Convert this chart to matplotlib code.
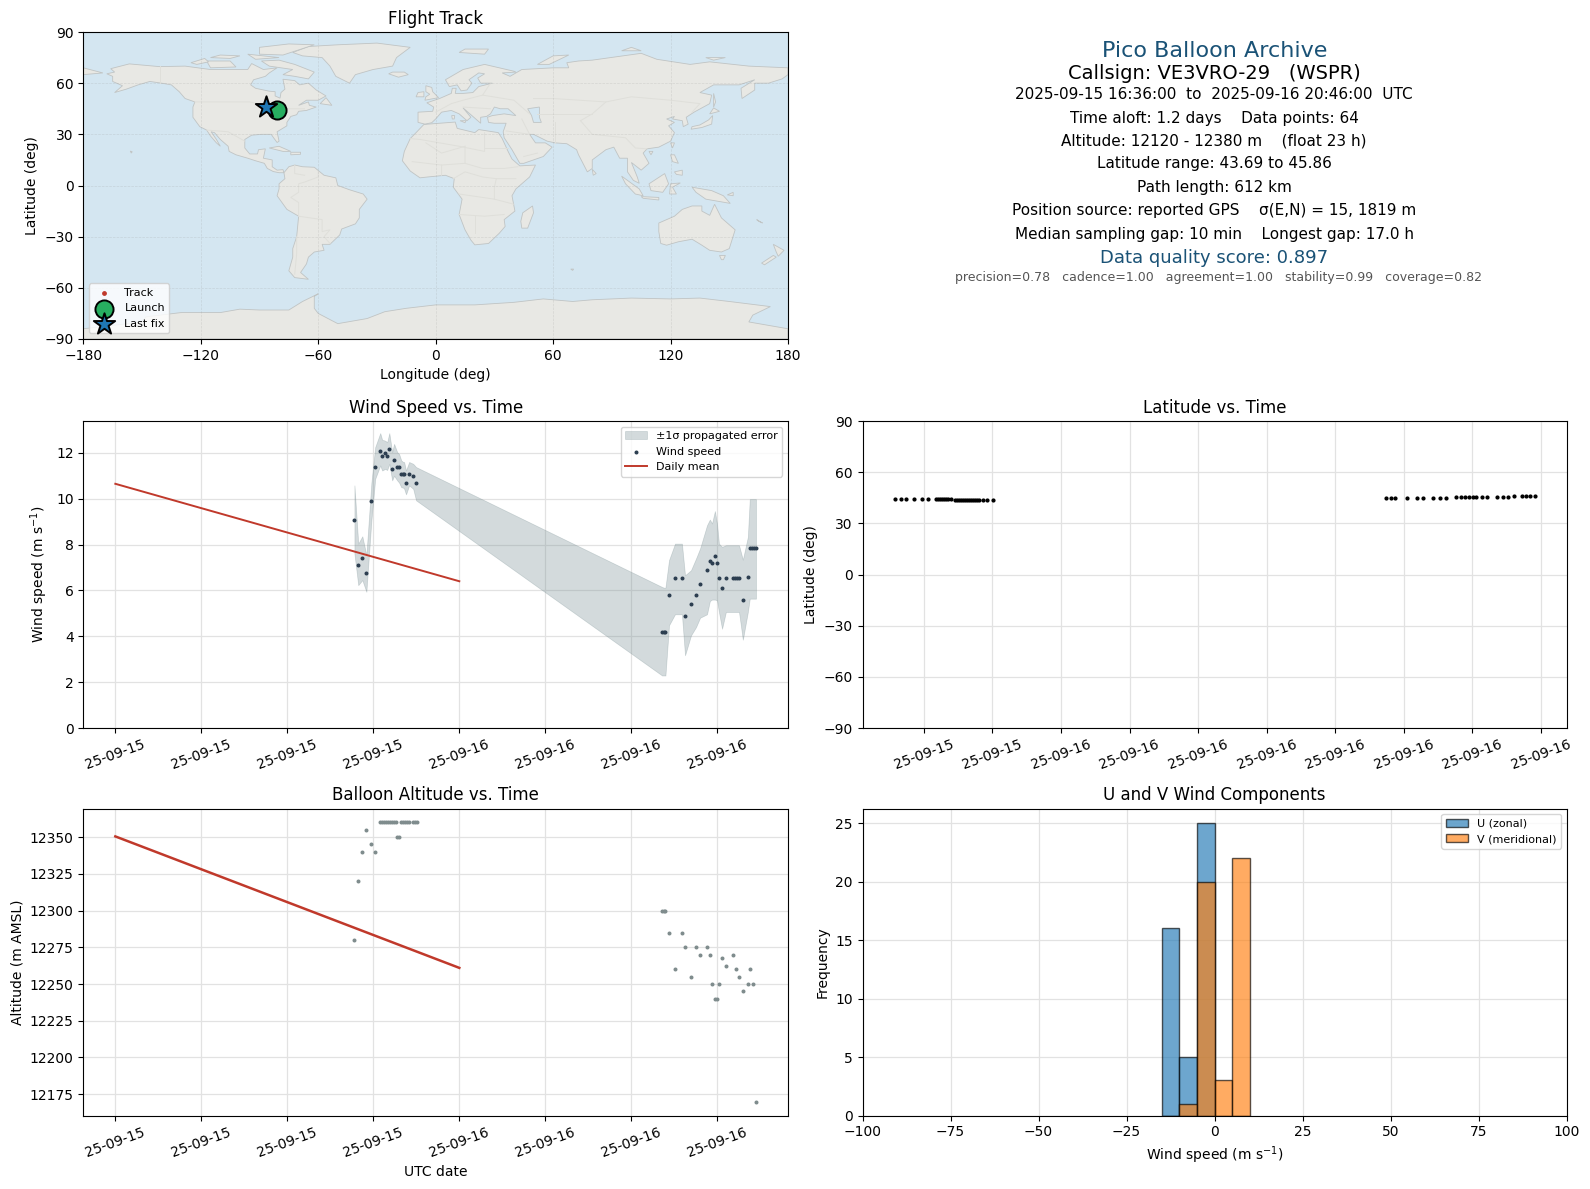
import pandas as pd
import matplotlib
matplotlib.use('Agg')
import matplotlib.pyplot as plt
import matplotlib.dates as mdates

DAY1 = '2025-09-15 '
DAY2 = '2025-09-16 '

################################### wind speed
wind_t1 = ['16:41', '16:57', '17:14', '17:31', '17:52', '18:08', '18:29', '18:37', '18:50', '18:58', '19:07',
           '19:19', '19:27', '19:40', '19:48', '19:57', '20:05', '20:09', '20:17', '20:30', '20:47', '20:59']
wind_v1 = [9.09, 7.13, 7.43, 6.74, 9.91, 11.39, 12.09, 11.87, 11.99, 11.87, 12.17,
           11.3, 11.7, 11.39, 11.39, 11.09, 11.09, 11.09, 10.7, 11.09, 11.0, 10.7]
wind_hi1 = [10.58, 8.04, 8.36, 7.54, 10.7, 12.25, 12.86, 12.57, 12.53, 12.46, 12.86,
            12.03, 12.39, 12.03, 11.95, 11.67, 11.6, 11.6, 11.23, 11.6, 11.52, 11.38]
wind_lo1 = [7.6, 6.23, 6.45, 5.94, 9.06, 10.87, 11.45, 11.23, 11.3, 11.25, 11.52,
            10.8, 11.0, 10.8, 10.7, 10.5, 10.48, 10.44, 10.19, 10.58, 10.43, 9.93]
wind_t2 = ['14:09', '14:16', '14:23', '14:38', '15:03', '15:32', '15:45', '16:10', '16:31', '16:48', '17:17',
           '17:29', '17:38', '17:50', '17:59', '18:07', '18:20', '18:36', '19:06', '19:14', '19:22', '19:31',
           '19:47', '20:08', '20:16', '20:25', '20:33', '20:42']
wind_v2 = [4.2, 4.2, 4.2, 5.82, 6.52, 6.52, 4.9, 5.42, 5.82, 6.3, 6.9,
           7.3, 7.21, 7.52, 7.21, 6.52, 6.12, 6.52, 6.52, 6.52, 6.52, 6.52,
           5.6, 6.6, 7.83, 7.83, 7.83, 7.83]
wind_hi2 = [6.15, 6.12, 6.12, 7.32, 8.04, 8.04, 6.66, 6.88, 7.39, 7.83, 8.84,
            9.09, 8.92, 9.46, 8.9, 8.04, 7.9, 7.97, 7.97, 7.97, 7.97, 7.97,
            7.34, 8.33, 9.98, 9.98, 9.98, 9.98]
wind_lo2 = [2.29, 2.29, 2.29, 4.48, 4.96, 4.96, 3.17, 4.04, 4.4, 4.81, 4.96,
            5.54, 5.6, 5.6, 5.57, 5.06, 4.33, 5.06, 5.06, 5.06, 5.06, 5.06,
            3.85, 5.06, 5.64, 5.64, 5.64, 5.64]
daily_wind = [10.65, 6.4]
daily_alt = [12350.5, 12261]

################################### altitude
alt_t1 = ['16:41', '16:57', '17:14', '17:31', '17:52', '18:08', '18:28', '18:36', '18:44', '18:53', '19:01', '19:09',
          '19:18', '19:26', '19:33', '19:40', '19:48', '19:57', '20:05', '20:13', '20:22', '20:30', '20:47', '20:55', '21:03']
alt_v1 = [12280, 12320, 12340, 12355, 12345, 12340, 12360, 12360, 12360, 12360, 12360, 12360,
          12360, 12360, 12360, 12350, 12350, 12360, 12360, 12360, 12360, 12360, 12360, 12360, 12360]
alt_t2 = ['14:09', '14:16', '14:23', '14:38', '15:03', '15:32', '15:45', '16:10', '16:31', '16:48', '17:17', '17:29',
          '17:38', '17:50', '17:59', '18:07', '18:20', '18:36', '19:06', '19:18', '19:31', '19:47', '20:08', '20:16',
          '20:29', '20:42']
alt_v2 = [12300, 12300, 12300, 12285, 12260, 12285, 12275, 12255, 12275, 12270, 12275, 12270,
          12250, 12240, 12240, 12250, 12268, 12262, 12270, 12260, 12255, 12245, 12250, 12260,
          12250, 12170]

################################### latitude / track
lat_t1 = ['16:43', '16:59', '17:14', '17:34', '17:55', '18:10', '18:32', '18:37', '18:42', '18:47', '18:53', '18:58',
          '19:03', '19:12', '19:22', '19:28', '19:33', '19:38', '19:43', '19:49', '19:54', '19:59', '20:04', '20:10',
          '20:15', '20:20', '20:26', '20:34', '20:47', '21:02']
lat_v1 = [44.2, 44.2, 44.2, 44.2, 44.2, 44.2, 44.2, 44.2, 44.2, 44.15, 44.1, 44.1,
          44.05, 44.0, 43.8, 43.8, 43.8, 43.75, 43.75, 43.75, 43.75, 43.75, 43.75, 43.7,
          43.7, 43.7, 43.7, 43.69, 43.69, 43.69]
lat_t2 = ['14:12', '14:25', '14:38', '15:08', '15:34', '15:50', '16:16', '16:34', '16:52', '17:18', '17:30', '17:41',
          '17:51', '18:02', '18:09', '18:24', '18:39', '19:05', '19:20', '19:34', '19:50', '20:10', '20:21', '20:32', '20:43']
lat_v2 = [44.8, 44.8, 44.8, 44.85, 44.85, 44.9, 44.9, 44.9, 44.95, 45.3, 45.3, 45.3,
          45.3, 45.3, 45.3, 45.35, 45.35, 45.35, 45.4, 45.45, 45.8, 45.86, 45.8, 45.8, 45.8]
track_lon = [-80.9, -81.0, -81.0, -81.1, -81.1, -81.2, -81.2, -81.3, -81.3, -81.3, -81.4, -81.4, -81.5, -81.5, -81.6,
             -81.6, -81.7, -81.7, -81.7, -81.8, -81.8, -81.9, -81.9, -81.9, -82.0, -82.0, -82.1, -82.1, -82.2, -82.2,
             -85.0, -85.1, -85.2, -85.3, -85.4, -85.5, -85.5, -85.6, -85.7, -85.8, -85.9, -86.0, -86.0, -86.1, -86.2,
             -86.2, -86.3, -86.4, -86.5, -86.6, -86.7, -86.7, -86.8, -86.8, -86.9]
launch_pos = (-81.0, 44.2)
last_pos = (-86.9, 45.8)

################################### histogram
bin_left = [-15, -10, -5, 0, 5]
u_counts = [16, 5, 25, 0, 0]
v_counts = [0, 1, 20, 3, 22]
bin_width = 5

################################### info panel
info_lines = ['Pico Balloon Archive', 'Callsign: VE3VRO-29   (WSPR)',
              '2025-09-15 16:36:00  to  2025-09-16 20:46:00  UTC',
              'Time aloft: 1.2 days    Data points: 64', 'Altitude: 12120 - 12380 m    (float 23 h)',
              'Latitude range: 43.69 to 45.86', 'Path length: 612 km',
              'Position source: reported GPS    σ(E,N) = 15, 1819 m',
              'Median sampling gap: 10 min    Longest gap: 17.0 h', 'Data quality score: 0.897',
              'precision=0.78   cadence=1.00   agreement=1.00   stability=0.99   coverage=0.82']
info_y = [50.9, 73.2, 94.6, 118, 141.4, 163.8, 187.2, 210.6, 234, 258.4, 277.7]
info_x = [1214.2] * 10 + [1218.2]
info_size = [16, 14, 11, 11, 11, 11, 11, 11, 11, 13, 9]
info_color = ['#1a5276', 'black', 'black', 'black', 'black', 'black', 'black', 'black', 'black', '#1a5276', '#555555']

################################### coarse coastlines (lon, lat)
land = [
    [(-168,65.5),(-164,66.5),(-166,68.5),(-156.5,71.3),(-141,69.7),(-128,70),(-115,68),(-108,68),(-96,68),(-94,71.5),(-88,68),(-81,69),(-85,66),(-87,64),(-93,62),(-94.5,59),(-92,57),(-85,55.3),(-82,55),(-82,52.5),(-79.5,51.2),(-79,54.5),(-77,56.5),(-78,62.3),(-72,61.5),(-69.5,59),(-65,60),(-61,56),(-56,52.5),(-60,50),(-66,50),(-70,47),(-65,49),(-64.5,47),(-61,46),(-66,44),(-70,43.5),(-71,41.5),(-74,40.5),(-76,37),(-76,35),(-81,31.5),(-80,26),(-81,25.2),(-82.8,28),(-84,30),(-89,30),(-94,29.5),(-97.5,27),(-97.5,22),(-95,18.5),(-91,18.5),(-90.5,21),(-87,21.5),(-88,16),(-83.5,15),(-83.5,11),(-81,9),(-78,9.3),(-77.5,7.5),(-80,7.5),(-83,8.2),(-86,10),(-87.5,13),(-92,14.5),(-96,16),(-102,18),(-105.5,20),(-106,23),(-110,27),(-113,31),(-114.7,31.5),(-112,27),(-110,23),(-112,25),(-115,29),(-117,32.5),(-120.5,34.5),(-124,40),(-124,46),(-123,49),(-128,51),(-131,55),(-135,59),(-140,60),(-146,61),(-152,59),(-158,56.5),(-164,54.5),(-160,58.5),(-165,61),(-165,64)],
    [(-73,78),(-68,76),(-58,75),(-54,70),(-51,64),(-44,60),(-41,65),(-32,68),(-22,70),(-20,75),(-13,81),(-30,83.5),(-50,82.5),(-65,81.5)],
    [(-80,73.5),(-72,71),(-62,66.5),(-65,62.5),(-72,64),(-78,65),(-73,68),(-85,70),(-89,73)],
    [(-117,73),(-105,73),(-102,69.5),(-115,69)],
    [(-90,77),(-78,76.5),(-62,82.5),(-75,83),(-90,81)],
    [(-125,72),(-118,74.5),(-116,72.5),(-122,71)],
    [(-96,77),(-80,75),(-92,74)],
    [(-110,76.5),(-100,76),(-105,74.5),(-115,75)],
    [(-59,48),(-53,47),(-56,51.5)],
    [(-85,22),(-80,23),(-74,20),(-78,20)],
    [(-74,19.5),(-69,19.5),(-69,18.3),(-74,18)],
    [(-156,20.2),(-155,19.8),(-155.5,19)],
    [(-77.5,7.5),(-75,11),(-72,12),(-68,11),(-62,10.7),(-57,6),(-51,4.5),(-50,0),(-44,-2.5),(-37,-5),(-35,-8),(-39,-14),(-39,-19),(-41,-22.5),(-48,-25.5),(-49,-29),(-54,-34.5),(-58,-34.5),(-57,-38),(-62,-39),(-65,-42),(-66,-46),(-69,-51),(-65,-55),(-72,-54),(-75,-50),(-73,-42),(-73,-37),(-71,-30),(-70,-18),(-76,-14),(-81,-6),(-80,-2),(-80,1),(-77,4)],
    [(-6,35.8),(10,37.2),(11,33.5),(20,31),(22,32.8),(32,31),(34,27.5),(37,20),(39,15.5),(43,11.5),(51,12),(48,5),(41,-2),(39,-6),(40.5,-15),(35,-20),(35.5,-24),(32.5,-28),(27,-34),(20,-34.8),(18,-32),(15,-26),(12,-17),(13.5,-8),(9,-1),(9.5,4),(5,6),(-4,5),(-8,4.5),(-13,8.5),(-17,14.5),(-16,20),(-13,27.5),(-10,31)],
    [(-9,37),(-9,43),(-1.5,43.5),(-1,46),(-4.5,48.5),(2,51),(8,54),(8.5,57),(10.5,57),(10,54),(14,54),(19,54.5),(22,58),(29,60),(23,60),(21.5,63),(25,65.5),(22,66),(17,62),(18.5,60),(16,56),(13,55.5),(11,59),(7,58),(5,62),(14,68),(25,71),(40,67),(41,66.5),(34,66),(38,64),(44,68),(60,69),(68,69),(67,72),(73,73),(80,73.5),(105,77.5),(113,74),(130,71),(140,72.5),(160,70),(180,69),(180,65),(177,62.5),(170,60),(163,60),(163,56),(156.5,51),(156,57),(163,62),(155,59),(142,59),(135,54.5),(141,53),(140,48),(132,43),(128,40),(129,36),(126.5,34.5),(126,38),(121,39),(122,40.5),(118,39),(122,37),(119,35),(122,31),(120,26),(114,22.5),(108,21.5),(106,19),(109,13),(105,9),(100,13.5),(103,5),(104,1.3),(101,3),(98,8),(98,16),(94,16),(91,22.5),(87,21),(80,15),(80,10),(77.5,8),(73,18),(72,21),(67,24.5),(61,25),(57,26),(50,30),(48,30),(51,25),(56,25),(59.5,22.5),(55,17),(45,13),(43,13),(39,21),(35,28),(34.5,31.5),(36,36.5),(30,36.5),(27,37),(26.5,40),(29,41),(35,42),(41,41),(37,45),(33,45),(30,46),(28,42),(26,40.5),(23,40),(23,36.5),(20,39.5),(14,45.5),(18,40),(16,38),(12,42),(8,44),(3,43),(0,39),(-2,36.8),(-5.5,36)],
    [(-180,65),(-170,66),(-175,67.5),(-180,69)],
    [(114,-22),(122,-18),(126,-14),(131,-12),(136,-12),(136,-15),(140,-17.5),(142.5,-11),(146,-19),(153,-26),(150,-37),(146,-39),(140,-38),(136,-35),(131,-31.5),(124,-33),(118,-35),(115,-34),(114,-27)],
    [(172.5,-34.5),(178,-38),(175,-41.5),(174,-39)],
    [(172.5,-41),(174,-42),(168,-46.5),(166.5,-45.5)],
    [(145,-41),(148,-41),(147,-43.5),(146,-43.5)],
    [(49.5,-12),(50,-16),(47,-25),(44,-25),(43.5,-21),(44.5,-16)],
    [(80,9.5),(82,7),(80.5,6)],
    [(130.5,33),(136,34),(141,36),(141.5,41),(139.5,38.5),(135,35.5),(131,34.5)],
    [(140,42),(145,43.5),(142,45.5)],
    [(142,54),(143,49),(142,46),(142,50)],
    [(120,25),(122,25),(121,22)],
    [(109,20),(111,20),(110,18)],
    [(120,18),(122,18),(124,13),(121,14)],
    [(122,8),(126,9),(126,6),(123,6.5)],
    [(109,1),(117,7),(119,1),(116,-4),(110,-3)],
    [(95,5.5),(104,-2),(106,-6),(102,-5),(97,1)],
    [(105,-6.5),(114,-7),(114,-8.5),(106,-7.5)],
    [(119.5,-5),(120,1),(125,1.5),(121,-1),(123,-5)],
    [(131,-1),(141,-3),(147,-6),(150.5,-10.5),(143,-9),(138,-8),(133,-4)],
    [(149,-5.5),(152,-4),(152,-6)],
    [(-5.5,50),(1.5,51.5),(-1.5,55),(-2,57.5),(-5,58.5),(-5,55),(-3,53.5),(-5,52)],
    [(-10,52),(-6,52),(-6,55),(-9,54.5)],
    [(-24,65.5),(-19,63.5),(-14,65),(-16,66.5),(-22,66.5)],
    [(12,78),(25,77),(27,80),(15,80)],
    [(52,71),(58,71),(68,76.5),(60,76)],
    [(95,79),(105,79),(100,81)],
    [(138,75),(148,75),(142,73.5)],
    [(12.5,38),(15.5,38),(15,36.8)],
    [(8.2,41),(9.7,41),(9.5,39),(8.5,39)],
    [(69,-49),(70.5,-49),(70,-49.8)],
    [(165,-21),(167,-22),(164,-20)],
    [(-180,-84),(-150,-80),(-148,-77),(-130,-74.5),(-110,-74.5),(-100,-72.5),(-90,-73),(-75,-73),(-68,-68),(-60,-63.5),(-62,-65),(-62,-72),(-60,-75),(-50,-81),(-35,-78),(-26,-74),(-15,-72),(0,-70),(20,-70),(40,-68.5),(55,-66.5),(70,-68),(80,-67),(100,-66),(120,-66.5),(135,-66),(150,-68),(171,-71),(162,-76),(160,-80),(180,-84),(180,-90),(-180,-90)],
]
caspian = [(47,45),(53,46),(53,40),(54,37),(50,37),(49,41)]
borders = [
    [(-123,49),(-95,49),(-83,46),(-79,43),(-75,45),(-67,45)], [(-141,70),(-141,60)], [(-117,32.5),(-106,31.5),(-97.5,26)],
    [(-70,-18),(-58,-20),(-58,-27),(-54,-26),(-57,-30),(-54,-34)], [(-70,-18),(-70,-10),(-74,-7),(-70,-4),(-70,1),(-67,2),(-60,5),(-60,8)],
    [(-71,-30),(-71,-40),(-72,-52)], [(-72,12),(-72,7),(-67,6)],
    [(-13,27.5),(-8,27),(12,23),(25,20),(25,31)], [(25,22),(37,22)], [(-5,25),(3,19),(15,23)], [(15,23),(15,13),(24,10),(35,10),(42,11)],
    [(3,12),(15,13)], [(3,6),(3,12),(-12,14)], [(9,4),(15,8),(24,5),(31,4),(41,4)], [(12,-5),(30,-8),(40,-11)],
    [(12,-17),(25,-18),(35,-17)], [(20,-18),(20,-28)], [(30,-8),(30,-1),(31,4)],
    [(28,60),(24,53),(40,50),(48,42)], [(50,51),(60,51),(87,49),(100,52),(120,50),(135,48),(131,43)],
    [(74,38),(80,42),(87,49)], [(74,38),(80,30),(97,28),(102,22),(108,21.5)], [(44,39),(48,30)], [(61,37),(61,25)],
    [(52,42),(70,42),(80,42)], [(0,43),(8,48),(14,50),(24,53)], [(14,46),(28,45)], [(36,32),(48,30)], [(45,17),(52,19)],
]


def stamps(day, times):
    return pd.to_datetime([day + t for t in times])


def pix_axes(fig, left, top, right, bottom):
    W, H = 1590., 1189.
    return fig.add_axes([left / W, 1 - bottom / H, (right - left) / W, (bottom - top) / H])


def date_axis(ax, hours):
    ax.xaxis.set_major_locator(mdates.HourLocator(byhour=range(0, 24, hours)))
    ax.xaxis.set_major_formatter(mdates.DateFormatter('%y-%m-%d'))
    ax.tick_params(axis='x', labelrotation=20)
    ax.grid(True, color='#e2e2e2', lw=0.9)
    ax.set_axisbelow(True)


fig = plt.figure(figsize=(15.9, 11.89), dpi=100)
ax_map = pix_axes(fig, 83.3, 32, 788, 339)
ax_info = pix_axes(fig, 862.5, 32, 1566.5, 339)
ax_wind = pix_axes(fig, 83.3, 421, 788, 728)
ax_lat = pix_axes(fig, 862.5, 421, 1566.5, 728)
ax_alt = pix_axes(fig, 83.3, 808.5, 788, 1115.5)
ax_hist = pix_axes(fig, 862.5, 808.5, 1566.5, 1115.5)

################################### map
ax_map.set_facecolor('#d4e6f1')
for poly in land:
    ax_map.fill([p[0] for p in poly], [p[1] for p in poly], facecolor='#e8e8e4', edgecolor='#c0c4c4', lw=0.6, zorder=1)
ax_map.fill([p[0] for p in caspian], [p[1] for p in caspian], facecolor='#d4e6f1', edgecolor='#c0c4c4', lw=0.6, zorder=1)
for line in borders:
    ax_map.plot([p[0] for p in line], [p[1] for p in line], color='#dfdfda', lw=0.7, zorder=1.2)
ax_map.set_axisbelow('line')
ax_map.grid(True, color='#999999', alpha=0.25, lw=0.5, ls='--')
ax_map.scatter(track_lon, lat_v1 + lat_v2, s=6, color='#c0392b', zorder=3, label='Track')
ax_map.scatter(*launch_pos, s=170, color='#27ae60', edgecolor='black', lw=1.4, zorder=4, label='Launch')
ax_map.scatter(*last_pos, s=260, marker='*', color='#1f77b4', edgecolor='black', lw=1.4, zorder=5, label='Last fix')
ax_map.set_xlim(-180, 180)
ax_map.set_ylim(-90, 90)
ax_map.set_xticks(range(-180, 181, 60))
ax_map.set_yticks(range(-90, 91, 30))
ax_map.set_xlabel('Longitude (deg)')
ax_map.set_ylabel('Latitude (deg)')
ax_map.set_title('Flight Track')
ax_map.legend(loc='lower left', fontsize=8)

################################### info
ax_info.axis('off')
for txt, x, y, size, col in zip(info_lines, info_x, info_y, info_size, info_color):
    fig.text(x / 1590, 1 - y / 1189, txt, ha='center', va='center', fontsize=size, color=col)

################################### wind
wind_x = stamps(DAY1, wind_t1).append(stamps(DAY2, wind_t2))
daily_x = pd.to_datetime(['2025-09-15', '2025-09-16'])
ax_wind.fill_between(wind_x, wind_lo1 + wind_lo2, wind_hi1 + wind_hi2, color='#6f878c', alpha=0.3, lw=0.5, label='±1σ propagated error')
ax_wind.scatter(wind_x, wind_v1 + wind_v2, s=3.5, color='#2c3e50', label='Wind speed', zorder=3)
ax_wind.plot(daily_x, daily_wind, color='#c0392b', lw=1.4, label='Daily mean')
ax_wind.set_ylim(bottom=0)
date_axis(ax_wind, 6)
ax_wind.set_ylabel('Wind speed (m s$^{-1}$)')
ax_wind.set_title('Wind Speed vs. Time')
ax_wind.legend(loc='upper right', fontsize=8)

################################### latitude
lat_x = stamps(DAY1, lat_t1).append(stamps(DAY2, lat_t2))
ax_lat.scatter(lat_x, lat_v1 + lat_v2, s=4, color='black')
ax_lat.set_ylim(-90, 90)
ax_lat.set_yticks(range(-90, 91, 30))
date_axis(ax_lat, 3)
ax_lat.set_ylabel('Latitude (deg)')
ax_lat.set_title('Latitude vs. Time')

################################### altitude
alt_x = stamps(DAY1, alt_t1).append(stamps(DAY2, alt_t2))
ax_alt.scatter(alt_x, alt_v1 + alt_v2, s=3.5, color='#7f8c8d', zorder=3)
ax_alt.plot(daily_x, daily_alt, color='#c0392b', lw=1.8)
date_axis(ax_alt, 6)
ax_alt.set_xlim(ax_wind.get_xlim())
ax_alt.set_xlabel('UTC date')
ax_alt.set_ylabel('Altitude (m AMSL)')
ax_alt.set_title('Balloon Altitude vs. Time')

################################### histogram
ax_hist.bar(bin_left, u_counts, width=bin_width, align='edge', color='#1f77b4', alpha=0.65, edgecolor='black', label='U (zonal)')
ax_hist.bar(bin_left, v_counts, width=bin_width, align='edge', color='#ff7f0e', alpha=0.65, edgecolor='black', label='V (meridional)')
ax_hist.set_xlim(-100, 100)
ax_hist.grid(True, color='#e2e2e2', lw=0.9)
ax_hist.set_axisbelow(True)
ax_hist.set_xlabel('Wind speed (m s$^{-1}$)')
ax_hist.set_ylabel('Frequency')
ax_hist.set_title('U and V Wind Components')
ax_hist.legend(loc='upper right', fontsize=8)

plt.savefig('out.png', dpi=100)
